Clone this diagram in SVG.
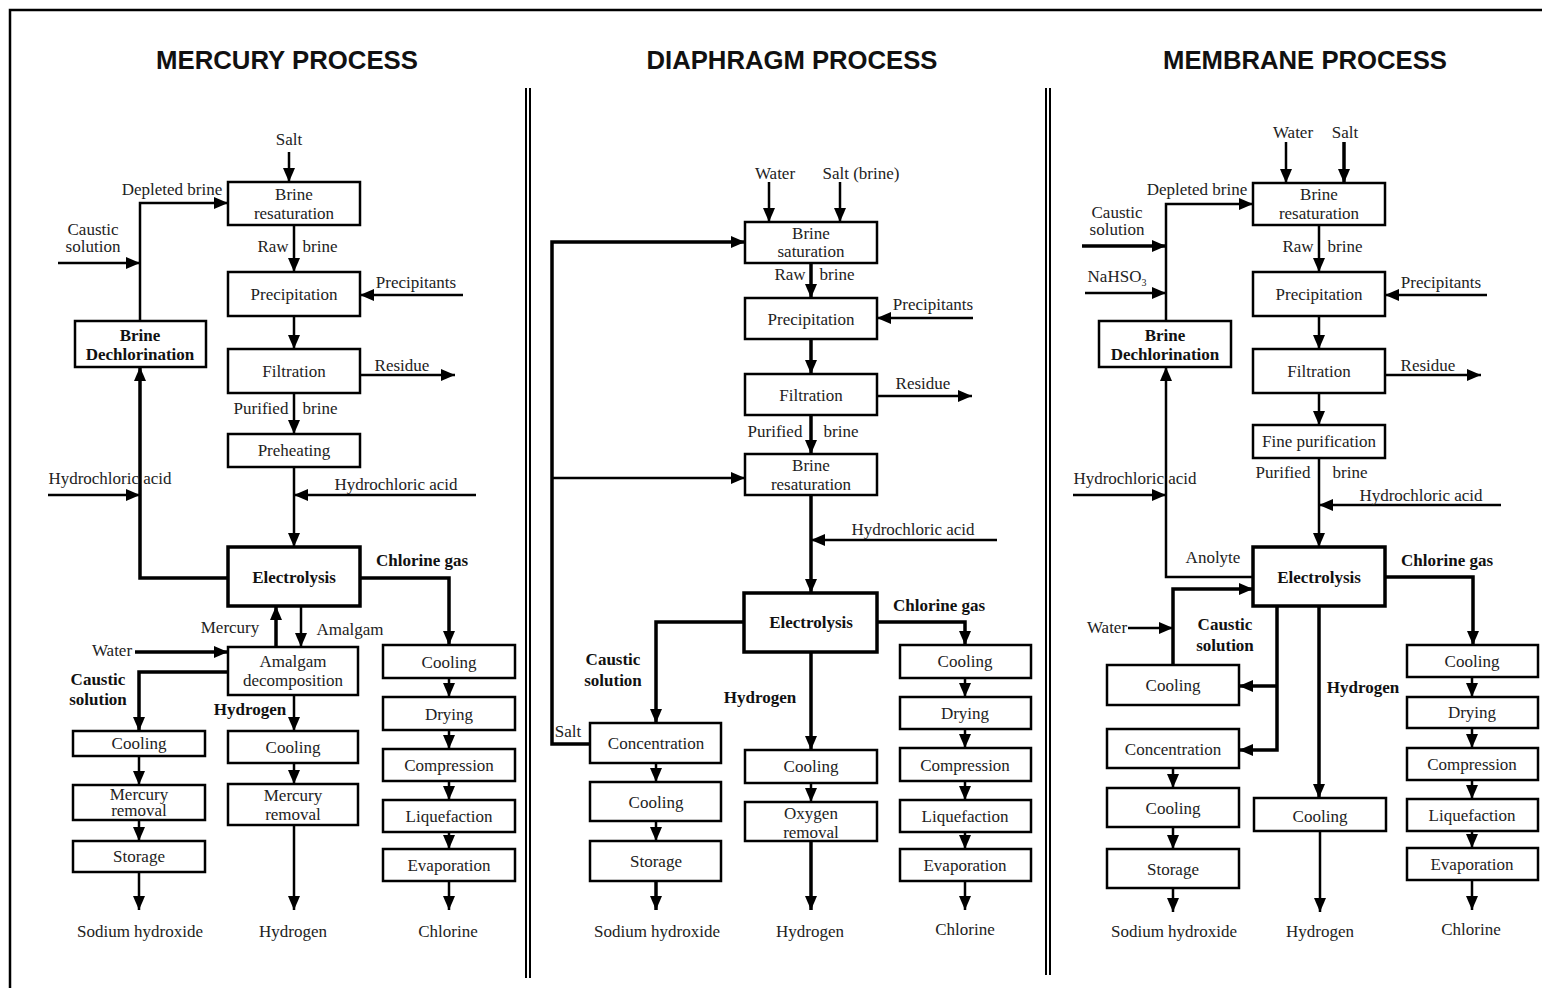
<svg xmlns="http://www.w3.org/2000/svg" width="1542" height="988" viewBox="0 0 1542 988">
<style>
text{font-family:"Liberation Serif","Times New Roman",serif;font-size:17px;fill:#222;text-anchor:middle}
.b{font-weight:bold;fill:#111}
.h{font-family:"Liberation Sans",Arial,sans-serif;font-weight:bold;font-size:25px;fill:#111}
rect{fill:#fff;stroke:#000;stroke-width:2.5}
.e rect{stroke-width:3.5}
.c path{fill:none;stroke:#000;stroke-width:2.5}
.c .k{stroke-width:3.5}
.f line,.f path{stroke:#000;stroke-width:2;fill:none}
</style>
<defs>
<marker id="a" markerUnits="userSpaceOnUse" markerWidth="14" markerHeight="12" refX="14" refY="6" orient="auto">
<path d="M0,0 L14,6 L0,12 z" fill="#000"/>
</marker>
</defs>
<rect x="0" y="0" width="1542" height="988" style="stroke:none;fill:#fff"/>
<g class="f">
<path d="M10,988 V10 H1542" style="stroke-width:2.5"/>
<line x1="526" y1="88" x2="526" y2="978"/><line x1="530" y1="88" x2="530" y2="978"/>
<line x1="1046" y1="88" x2="1046" y2="975"/><line x1="1050" y1="88" x2="1050" y2="975"/>
</g>
<g id="titles">
<text class="h" x="287" y="69" textLength="262" lengthAdjust="spacingAndGlyphs">MERCURY PROCESS</text>
<text class="h" x="792" y="69" textLength="291" lengthAdjust="spacingAndGlyphs">DIAPHRAGM PROCESS</text>
<text class="h" x="1305" y="69" textLength="284" lengthAdjust="spacingAndGlyphs">MEMBRANE PROCESS</text>
</g>
<g id="connectors" class="c">
<!-- mercury -->
<path d="M289,152 V182" marker-end="url(#a)"/>
<path d="M140,321 V203 H228" marker-end="url(#a)"/>
<path d="M58,263 H140" marker-end="url(#a)"/>
<path d="M294,225 V272" marker-end="url(#a)"/>
<path d="M463,295 H360" marker-end="url(#a)"/>
<path d="M294,316 V349" marker-end="url(#a)"/>
<path d="M360,375 H455" marker-end="url(#a)"/>
<path d="M294,393 V434" marker-end="url(#a)"/>
<path d="M294,467 V547" marker-end="url(#a)"/>
<path d="M476,495 H294" marker-end="url(#a)"/>
<path class="k" d="M228,578 H140 V367" marker-end="url(#a)"/>
<path d="M48,495 H140" marker-end="url(#a)"/>
<path class="k" d="M360,578 H449 V645" marker-end="url(#a)"/>
<path class="k" d="M276,647 V606" marker-end="url(#a)"/>
<path d="M301,606 V647" marker-end="url(#a)"/>
<path class="k" d="M135,652 H228" marker-end="url(#a)"/>
<path class="k" d="M228,672 H139 V731" marker-end="url(#a)"/>
<path d="M294,695 V731" marker-end="url(#a)"/>
<path d="M139,756 V785" marker-end="url(#a)"/>
<path d="M139,820 V841" marker-end="url(#a)"/>
<path d="M139,872 V910" marker-end="url(#a)"/>
<path d="M294,763 V784" marker-end="url(#a)"/>
<path d="M294,825 V910" marker-end="url(#a)"/>
<path d="M449,678 V697" marker-end="url(#a)"/>
<path d="M449,730 V749" marker-end="url(#a)"/>
<path d="M449,781 V800" marker-end="url(#a)"/>
<path d="M449,832 V849" marker-end="url(#a)"/>
<path d="M449,881 V910" marker-end="url(#a)"/>
<!-- diaphragm -->
<path d="M769,182 V222" marker-end="url(#a)"/>
<path d="M840,182 V222" marker-end="url(#a)"/>
<path class="k" d="M590,744 H552 V242 H745" marker-end="url(#a)"/>
<path d="M552,478 H745" marker-end="url(#a)"/>
<path class="k" d="M811,263 V298" marker-end="url(#a)"/>
<path d="M973,318 H877" marker-end="url(#a)"/>
<path class="k" d="M811,339 V374" marker-end="url(#a)"/>
<path d="M877,396 H972" marker-end="url(#a)"/>
<path class="k" d="M811,415 V454" marker-end="url(#a)"/>
<path class="k" d="M811,495 V593" marker-end="url(#a)"/>
<path d="M997,540 H811" marker-end="url(#a)"/>
<path class="k" d="M744,622 H656 V723" marker-end="url(#a)"/>
<path class="k" d="M877,622 H965 V645" marker-end="url(#a)"/>
<path class="k" d="M811,652 V750" marker-end="url(#a)"/>
<path d="M656,763 V782" marker-end="url(#a)"/>
<path d="M656,821 V841" marker-end="url(#a)"/>
<path class="k" d="M656,881 V910" marker-end="url(#a)"/>
<path d="M811,783 V802" marker-end="url(#a)"/>
<path class="k" d="M811,841 V910" marker-end="url(#a)"/>
<path d="M965,678 V697" marker-end="url(#a)"/>
<path d="M965,729 V748" marker-end="url(#a)"/>
<path d="M965,781 V800" marker-end="url(#a)"/>
<path d="M965,832 V849" marker-end="url(#a)"/>
<path d="M965,881 V910" marker-end="url(#a)"/>
<!-- membrane -->
<path d="M1286,142 V183" marker-end="url(#a)"/>
<path class="k" d="M1344,142 V183" marker-end="url(#a)"/>
<path d="M1166,321 V204 H1253" marker-end="url(#a)"/>
<path class="k" d="M1082,246 H1166" marker-end="url(#a)"/>
<path d="M1085,293 H1166" marker-end="url(#a)"/>
<path d="M1319,225 V272" marker-end="url(#a)"/>
<path d="M1487,295 H1385" marker-end="url(#a)"/>
<path d="M1319,316 V349" marker-end="url(#a)"/>
<path d="M1385,375 H1481" marker-end="url(#a)"/>
<path d="M1319,393 V425" marker-end="url(#a)"/>
<path d="M1319,458 V547" marker-end="url(#a)"/>
<path d="M1501,505 H1319" marker-end="url(#a)"/>
<path d="M1253,577 H1166 V367" marker-end="url(#a)"/>
<path d="M1073,495 H1166" marker-end="url(#a)"/>
<path class="k" d="M1173,665 V589 H1253" marker-end="url(#a)"/>
<path d="M1128,628 H1173" marker-end="url(#a)"/>
<path class="k" d="M1277,606 V750 H1239" marker-end="url(#a)"/>
<path class="k" d="M1277,686 H1239" marker-end="url(#a)"/>
<path class="k" d="M1319,606 V798" marker-end="url(#a)"/>
<path class="k" d="M1385,577 H1473 V645" marker-end="url(#a)"/>
<path d="M1173,768 V788" marker-end="url(#a)"/>
<path d="M1173,827 V849" marker-end="url(#a)"/>
<path d="M1173,888 V912" marker-end="url(#a)"/>
<path d="M1320,831 V912" marker-end="url(#a)"/>
<path d="M1472,677 V697" marker-end="url(#a)"/>
<path d="M1472,728 V748" marker-end="url(#a)"/>
<path d="M1472,780 V799" marker-end="url(#a)"/>
<path d="M1472,831 V848" marker-end="url(#a)"/>
<path d="M1472,880 V910" marker-end="url(#a)"/>
</g>
<!-- MERCURY nodes -->
<g id="m-resat"><rect x="228" y="182" width="132" height="43"/><text x="294" y="200">Brine</text><text x="294" y="219">resaturation</text></g>
<g id="m-precip"><rect x="228" y="272" width="132" height="44"/><text x="294" y="300">Precipitation</text></g>
<g id="m-filt"><rect x="228" y="349" width="132" height="44"/><text x="294" y="377">Filtration</text></g>
<g id="m-preheat"><rect x="228" y="434" width="132" height="33"/><text x="294" y="456">Preheating</text></g>
<g id="m-dechl"><rect x="75" y="321" width="131" height="46"/><text class="b" x="140" y="341">Brine</text><text class="b" x="140" y="360">Dechlorination</text></g>
<g id="m-elec" class="e"><rect x="228" y="547" width="132" height="59"/><text class="b" x="294" y="583">Electrolysis</text></g>
<g id="m-amal"><rect x="228" y="647" width="130" height="48"/><text x="293" y="667">Amalgam</text><text x="293" y="686">decomposition</text></g>
<g id="m-cool1"><rect x="73" y="731" width="132" height="25"/><text x="139" y="749">Cooling</text></g>
<g id="m-hgrem1"><rect x="73" y="785" width="132" height="35"/><text x="139" y="800">Mercury</text><text x="139" y="816">removal</text></g>
<g id="m-stor"><rect x="73" y="841" width="132" height="31"/><text x="139" y="862">Storage</text></g>
<g id="m-cool2"><rect x="228" y="731" width="130" height="32"/><text x="293" y="753">Cooling</text></g>
<g id="m-hgrem2"><rect x="228" y="784" width="130" height="41"/><text x="293" y="801">Mercury</text><text x="293" y="820">removal</text></g>
<g id="m-ccool"><rect x="383" y="645" width="132" height="33"/><text x="449" y="668">Cooling</text></g>
<g id="m-dry"><rect x="383" y="697" width="132" height="33"/><text x="449" y="720">Drying</text></g>
<g id="m-comp"><rect x="383" y="749" width="132" height="32"/><text x="449" y="771">Compression</text></g>
<g id="m-liq"><rect x="383" y="800" width="132" height="32"/><text x="449" y="822">Liquefaction</text></g>
<g id="m-evap"><rect x="383" y="849" width="132" height="32"/><text x="449" y="871">Evaporation</text></g>
<g id="m-labels">
<text x="289" y="145">Salt</text>
<text x="172" y="195">Depleted brine</text>
<text x="93" y="235">Caustic</text><text x="93" y="252">solution</text>
<text x="273" y="252">Raw</text><text x="320" y="252">brine</text>
<text x="416" y="288">Precipitants</text>
<text x="402" y="371">Residue</text>
<text x="261" y="414">Purified</text><text x="320" y="414">brine</text>
<text x="110" y="484">Hydrochloric acid</text>
<text x="396" y="490">Hydrochloric acid</text>
<text class="b" x="422" y="566">Chlorine gas</text>
<text x="230" y="633">Mercury</text>
<text x="350" y="635">Amalgam</text>
<text x="112" y="656">Water</text>
<text class="b" x="98" y="685">Caustic</text><text class="b" x="98" y="705">solution</text>
<text class="b" x="250" y="715">Hydrogen</text>
<text x="140" y="937">Sodium hydroxide</text>
<text x="293" y="937">Hydrogen</text>
<text x="448" y="937">Chlorine</text>
</g>
<!-- DIAPHRAGM nodes -->
<g id="d-sat"><rect x="745" y="222" width="132" height="41"/><text x="811" y="239">Brine</text><text x="811" y="257">saturation</text></g>
<g id="d-precip"><rect x="745" y="298" width="132" height="41"/><text x="811" y="325">Precipitation</text></g>
<g id="d-filt"><rect x="745" y="374" width="132" height="41"/><text x="811" y="401">Filtration</text></g>
<g id="d-resat"><rect x="745" y="454" width="132" height="41"/><text x="811" y="471">Brine</text><text x="811" y="490">resaturation</text></g>
<g id="d-elec" class="e"><rect x="744" y="593" width="133" height="59"/><text class="b" x="811" y="628">Electrolysis</text></g>
<g id="d-conc"><rect x="590" y="723" width="131" height="40"/><text x="656" y="749">Concentration</text></g>
<g id="d-cool1"><rect x="590" y="782" width="131" height="39"/><text x="656" y="808">Cooling</text></g>
<g id="d-stor"><rect x="590" y="841" width="131" height="40"/><text x="656" y="867">Storage</text></g>
<g id="d-cool2"><rect x="745" y="750" width="132" height="33"/><text x="811" y="772">Cooling</text></g>
<g id="d-oxy"><rect x="745" y="802" width="132" height="39"/><text x="811" y="819">Oxygen</text><text x="811" y="838">removal</text></g>
<g id="d-ccool"><rect x="900" y="645" width="131" height="33"/><text x="965" y="667">Cooling</text></g>
<g id="d-dry"><rect x="900" y="697" width="131" height="32"/><text x="965" y="719">Drying</text></g>
<g id="d-comp"><rect x="900" y="748" width="131" height="33"/><text x="965" y="771">Compression</text></g>
<g id="d-liq"><rect x="900" y="800" width="131" height="32"/><text x="965" y="822">Liquefaction</text></g>
<g id="d-evap"><rect x="900" y="849" width="131" height="32"/><text x="965" y="871">Evaporation</text></g>
<g id="d-labels">
<text x="775" y="179">Water</text>
<text x="861" y="179">Salt (brine)</text>
<text x="790" y="280">Raw</text><text x="837" y="280">brine</text>
<text x="933" y="310">Precipitants</text>
<text x="923" y="389">Residue</text>
<text x="775" y="437">Purified</text><text x="841" y="437">brine</text>
<text x="913" y="535">Hydrochloric acid</text>
<text class="b" x="939" y="611">Chlorine gas</text>
<text class="b" x="613" y="665">Caustic</text><text class="b" x="613" y="686">solution</text>
<text class="b" x="760" y="703">Hydrogen</text>
<text x="568" y="737">Salt</text>
<text x="657" y="937">Sodium hydroxide</text>
<text x="810" y="937">Hydrogen</text>
<text x="965" y="935">Chlorine</text>
</g>
<!-- MEMBRANE nodes -->
<g id="b-resat"><rect x="1253" y="183" width="132" height="42"/><text x="1319" y="200">Brine</text><text x="1319" y="219">resaturation</text></g>
<g id="b-precip"><rect x="1253" y="272" width="132" height="44"/><text x="1319" y="300">Precipitation</text></g>
<g id="b-filt"><rect x="1253" y="349" width="132" height="44"/><text x="1319" y="377">Filtration</text></g>
<g id="b-fine"><rect x="1253" y="425" width="132" height="33"/><text x="1319" y="447">Fine purification</text></g>
<g id="b-dechl"><rect x="1099" y="321" width="132" height="46"/><text class="b" x="1165" y="341">Brine</text><text class="b" x="1165" y="360">Dechlorination</text></g>
<g id="b-elec" class="e"><rect x="1253" y="547" width="132" height="59"/><text class="b" x="1319" y="583">Electrolysis</text></g>
<g id="b-cool1"><rect x="1107" y="665" width="132" height="40"/><text x="1173" y="691">Cooling</text></g>
<g id="b-conc"><rect x="1107" y="729" width="132" height="39"/><text x="1173" y="755">Concentration</text></g>
<g id="b-cool2"><rect x="1107" y="788" width="132" height="39"/><text x="1173" y="814">Cooling</text></g>
<g id="b-stor"><rect x="1107" y="849" width="132" height="39"/><text x="1173" y="875">Storage</text></g>
<g id="b-cool3"><rect x="1254" y="798" width="132" height="33"/><text x="1320" y="822">Cooling</text></g>
<g id="b-ccool"><rect x="1407" y="645" width="131" height="32"/><text x="1472" y="667">Cooling</text></g>
<g id="b-dry"><rect x="1407" y="697" width="131" height="31"/><text x="1472" y="718">Drying</text></g>
<g id="b-comp"><rect x="1407" y="748" width="131" height="32"/><text x="1472" y="770">Compression</text></g>
<g id="b-liq"><rect x="1407" y="799" width="131" height="32"/><text x="1472" y="821">Liquefaction</text></g>
<g id="b-evap"><rect x="1407" y="848" width="131" height="32"/><text x="1472" y="870">Evaporation</text></g>
<g id="b-labels">
<text x="1293" y="138">Water</text>
<text x="1345" y="138">Salt</text>
<text x="1197" y="195">Depleted brine</text>
<text x="1117" y="218">Caustic</text><text x="1117" y="235">solution</text>
<text x="1117" y="282">NaHSO<tspan font-size="10" dy="4">3</tspan></text>
<text x="1298" y="252">Raw</text><text x="1345" y="252">brine</text>
<text x="1441" y="288">Precipitants</text>
<text x="1428" y="371">Residue</text>
<text x="1283" y="478">Purified</text><text x="1350" y="478">brine</text>
<text x="1421" y="501">Hydrochloric acid</text>
<text x="1135" y="484">Hydrochloric acid</text>
<text x="1213" y="563">Anolyte</text>
<text class="b" x="1447" y="566">Chlorine gas</text>
<text x="1107" y="633">Water</text>
<text class="b" x="1225" y="630">Caustic</text><text class="b" x="1225" y="651">solution</text>
<text class="b" x="1363" y="693">Hydrogen</text>
<text x="1174" y="937">Sodium hydroxide</text>
<text x="1320" y="937">Hydrogen</text>
<text x="1471" y="935">Chlorine</text>
</g>
</svg>
